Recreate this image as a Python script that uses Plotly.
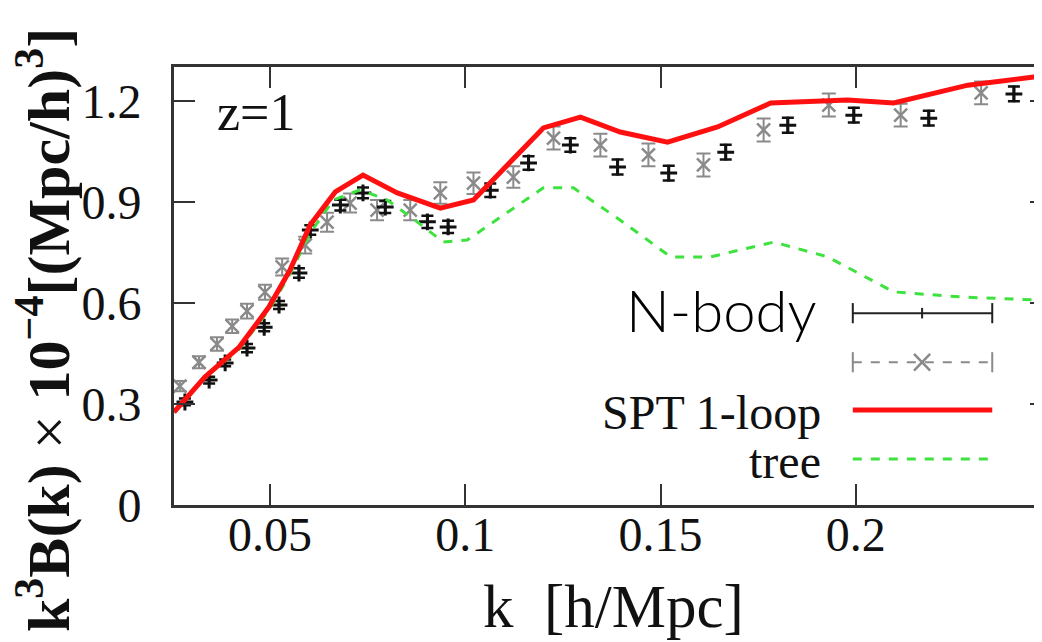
import plotly.graph_objects as go

# ---------------- data ----------------
k_spt = [0.0254, 0.0333, 0.0421, 0.0497, 0.0551, 0.0603, 0.0667, 0.0738, 0.0826, 0.0936,
         0.1021, 0.1097, 0.1200, 0.1295, 0.1397, 0.1518, 0.1646, 0.1782, 0.1979, 0.2097,
         0.2287, 0.2456, 0.2500]
b_spt = [0.276, 0.380, 0.469, 0.588, 0.698, 0.832, 0.930, 0.980, 0.927, 0.882,
         0.906, 0.995, 1.120, 1.152, 1.108, 1.078, 1.123, 1.194, 1.203, 1.194,
         1.247, 1.271, 1.276]

k_tree = [0.0254, 0.0333, 0.0421, 0.0497, 0.0551, 0.0603, 0.0662, 0.0731, 0.0800, 0.0877,
          0.0944, 0.1005, 0.1090, 0.1200, 0.1277, 0.1397, 0.1526, 0.1628, 0.1790, 0.1928,
          0.2097, 0.2269, 0.2500]
b_tree = [0.274, 0.377, 0.463, 0.579, 0.686, 0.808, 0.906, 0.936, 0.906, 0.841,
          0.781, 0.787, 0.855, 0.942, 0.942, 0.846, 0.737, 0.737, 0.781, 0.737,
          0.633, 0.618, 0.607]

k_nb1 = [0.0282, 0.0344, 0.0385, 0.0441, 0.0485, 0.0523, 0.0574, 0.0603, 0.0680, 0.0738,
         0.0795, 0.0903, 0.0956, 0.1064, 0.1162, 0.1269, 0.1390, 0.1521, 0.1667, 0.1826,
         0.1995, 0.2187, 0.2405]
b_nb1 = [0.306, 0.371, 0.422, 0.466, 0.528, 0.594, 0.689, 0.817, 0.891, 0.927,
         0.885, 0.841, 0.826, 0.935, 1.016, 1.069, 1.004, 0.986, 1.048, 1.128,
         1.158, 1.149, 1.221]
e_nb1 = [0.010, 0.010, 0.010, 0.012, 0.012, 0.012, 0.014, 0.014, 0.016, 0.016,
         0.018, 0.018, 0.018, 0.020, 0.020, 0.020, 0.022, 0.022, 0.022, 0.022,
         0.022, 0.022, 0.022]

k_nb2 = [0.0269, 0.0318, 0.0364, 0.0403, 0.0441, 0.0487, 0.0531, 0.0590, 0.0646, 0.0705,
         0.0774, 0.0859, 0.0936, 0.1021, 0.1123, 0.1226, 0.1346, 0.1469, 0.1610, 0.1764,
         0.1931, 0.2115, 0.2321]
b_nb2 = [0.353, 0.424, 0.478, 0.531, 0.576, 0.632, 0.707, 0.772, 0.840, 0.897,
         0.876, 0.876, 0.927, 0.956, 0.974, 1.090, 1.069, 1.040, 1.010, 1.114,
         1.188, 1.158, 1.224]
e_nb2 = [0.015, 0.018, 0.020, 0.020, 0.022, 0.022, 0.025, 0.025, 0.028, 0.028,
         0.030, 0.030, 0.032, 0.032, 0.032, 0.034, 0.034, 0.034, 0.034, 0.034,
         0.034, 0.034, 0.034]

x_ticks = [0.05, 0.1, 0.15, 0.2]
x_tick_text = ["0.05", "0.1", "0.15", "0.2"]
y_ticks = [0, 0.3, 0.6, 0.9, 1.2]
y_tick_text = ["0", "0.3", "0.6", "0.9", "1.2"]

legend_labels = ["N-body", "", "SPT 1-loop", "tree"]

# ---------------- figure ----------------
SERIF = "Liberation Serif, Times New Roman, serif"
RED = "#ff1010"
GREEN = "#3ee23e"
GREY = "#8a8a8a"

fig = go.Figure()

fig.add_trace(go.Scatter(
    x=k_nb2, y=b_nb2, mode="markers",
    marker=dict(symbol="x-thin", size=13, line=dict(color=GREY, width=2.5)),
    error_y=dict(type="data", array=e_nb2, color=GREY, thickness=2, width=7),
    showlegend=False))

fig.add_trace(go.Scatter(
    x=k_nb1, y=b_nb1, mode="markers",
    marker=dict(symbol="cross-thin", size=12, line=dict(color="#111111", width=3)),
    error_y=dict(type="data", array=e_nb1, color="#111111", thickness=2.5, width=6),
    showlegend=False))

fig.add_trace(go.Scatter(
    x=k_tree, y=b_tree, mode="lines",
    line=dict(color=GREEN, width=3, dash="dash"),
    showlegend=False))

fig.add_trace(go.Scatter(
    x=k_spt, y=b_spt, mode="lines",
    line=dict(color=RED, width=5),
    showlegend=False))

# ---------------- legend (drawn by hand) ----------------
lx0, lx1, lxm = 0.774, 0.933, 0.853
ly = [0.438, 0.326, 0.217, 0.105]
cap = 0.023
shapes = []
# N-body sample
shapes.append(dict(type="line", xref="paper", yref="paper", x0=lx0, x1=lx1, y0=ly[0], y1=ly[0],
                   line=dict(color="#222222", width=2)))
for xx, hh in [(lx0, cap), (lx1, cap), (lxm, 0.012)]:
    shapes.append(dict(type="line", xref="paper", yref="paper", x0=xx, x1=xx,
                       y0=ly[0] - hh, y1=ly[0] + hh, line=dict(color="#222222", width=2)))
# grey sample
shapes.append(dict(type="line", xref="paper", yref="paper", x0=lx0, x1=lx1, y0=ly[1], y1=ly[1],
                   line=dict(color=GREY, width=2, dash="dash")))
for xx in [lx0, lx1]:
    shapes.append(dict(type="line", xref="paper", yref="paper", x0=xx, x1=xx,
                       y0=ly[1] - cap, y1=ly[1] + cap, line=dict(color=GREY, width=2)))
dx, dy = 0.0092, 0.019
shapes.append(dict(type="line", xref="paper", yref="paper", x0=lxm - dx, x1=lxm + dx,
                   y0=ly[1] - dy, y1=ly[1] + dy, line=dict(color=GREY, width=2.5)))
shapes.append(dict(type="line", xref="paper", yref="paper", x0=lxm - dx, x1=lxm + dx,
                   y0=ly[1] + dy, y1=ly[1] - dy, line=dict(color=GREY, width=2.5)))
# SPT sample
shapes.append(dict(type="line", xref="paper", yref="paper", x0=lx0, x1=lx1, y0=ly[2], y1=ly[2],
                   line=dict(color=RED, width=5)))
# tree sample
shapes.append(dict(type="line", xref="paper", yref="paper", x0=lx0, x1=lx1, y0=ly[3], y1=ly[3],
                   line=dict(color=GREEN, width=3, dash="dash")))

annotations = [
    dict(text=legend_labels[0], xref="paper", yref="paper", x=0.735, y=ly[0] + 0.008,
         xanchor="right", yanchor="middle", showarrow=False,
         font=dict(family="Lato, Noto Sans, sans-serif", size=58, color="#000000", weight=300)),
    dict(text=legend_labels[2], xref="paper", yref="paper", x=0.740, y=ly[2] - 0.005,
         xanchor="right", yanchor="middle", showarrow=False,
         font=dict(family=SERIF, size=48, color="#111111")),
    dict(text=legend_labels[3], xref="paper", yref="paper", x=0.740, y=ly[3] - 0.005,
         xanchor="right", yanchor="middle", showarrow=False,
         font=dict(family=SERIF, size=48, color="#111111")),
    dict(text="z=1", xref="paper", yref="paper", x=0.0935, y=0.897,
         xanchor="center", yanchor="middle", showarrow=False,
         font=dict(family=SERIF, size=52, color="#111111")),
    dict(text="k  [h/Mpc]", xref="paper", yref="paper", x=0.5006, y=-0.232,
         xanchor="center", yanchor="middle", showarrow=False,
         font=dict(family=SERIF, size=61, color="#111111")),
    dict(text="<b>k<sup>3</sup>B(k)</b> × <b>10<sup>−4</sup>[(Mpc/h)<sup>3</sup>]</b>",
         xref="paper", yref="paper", x=-0.148, y=0.40, textangle=-90,
         xanchor="center", yanchor="middle", showarrow=False,
         font=dict(family=SERIF, size=60, color="#111111")),
]

# the page body adds an 8 px offset; margins compensate so the frame lands where the
# reference has it (the right border falls just outside the visible window)
fig.update_layout(
    width=1043, height=642,
    margin=dict(l=166, r=0, t=59, b=145, autoexpand=False),
    paper_bgcolor="white", plot_bgcolor="white",
    shapes=shapes, annotations=annotations,
    font=dict(family=SERIF, color="#111111"),
)

fig.update_xaxes(
    range=[0.0254, 0.25], tickvals=x_ticks, ticktext=x_tick_text,
    ticks="inside", ticklen=21, tickwidth=2, tickcolor="#333333",
    showline=True, linewidth=3, linecolor="#333333", mirror="ticks",
    showgrid=False, zeroline=False, automargin=False,
    tickfont=dict(family=SERIF, size=48, color="#111111"),
    ticklabelstandoff=-15,
)
fig.update_yaxes(
    range=[0, 1.301], tickvals=y_ticks, ticktext=y_tick_text,
    ticks="inside", ticklen=21, tickwidth=2, tickcolor="#333333",
    showline=True, linewidth=3, linecolor="#333333", mirror="ticks",
    showgrid=False, zeroline=False, automargin=False,
    tickfont=dict(family=SERIF, size=48, color="#111111"),
    ticklabelstandoff=20,
)

fig.write_html("out.html")
